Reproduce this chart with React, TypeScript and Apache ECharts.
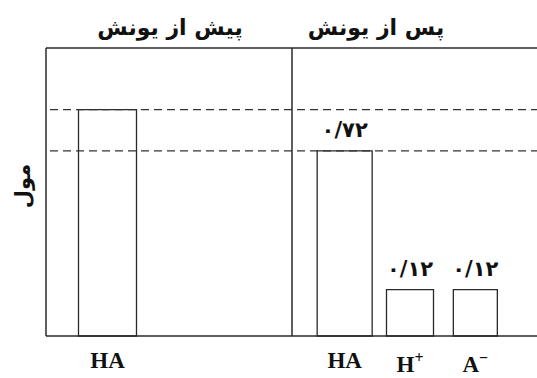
import React, { useEffect, useRef } from "react";
import * as echarts from "echarts";

// Panel titles and axis name
const panelTitles = ["پیش از یونش", "پس از یونش"];
const yAxisName = "مول";

// Categories
const beforeCategories = ["HA", ""];
const afterCategories = ["HA", "H+", "A−"];

// Bar heights as drawn (schematic)
const beforeValues = [0.88];
const afterValues = [0.72, 0.18, 0.18];

// Printed value labels
const beforeLabels = [""];
const afterLabels = ["۰/۷۲", "۰/۱۲", "۰/۱۲"];

// Dashed reference levels
const refLevels = [0.88, 0.72];

const beforeWidths = [58];
const afterWidths = [55, 47, 44];

const W = 537;
const H = 378;
const LEFT = 46;
const DIVIDER = 292;
const TOP = 48;
const BOTTOM = 336;
const LINE = "#2a2a2a";
const FA_FONT = "'DejaVu Sans', 'Noto Sans', sans-serif";

function makeRender(widths: number[], labels: string[]) {
  return (params: any, api: any) => {
    const cat = api.value(0);
    const val = api.value(1);
    const top = api.coord([cat, val]);
    const base = api.coord([cat, 0]);
    const w = widths[params.dataIndex];
    const children: any[] = [
      {
        type: "rect",
        shape: { x: top[0] - w / 2, y: top[1], width: w, height: base[1] - top[1] },
        style: { fill: "#fff", stroke: LINE, lineWidth: 1.3 },
      },
    ];
    const lab = labels[params.dataIndex];
    if (lab) {
      children.push({
        type: "text",
        style: {
          text: lab,
          x: top[0],
          y: top[1] - 10,
          align: "center",
          verticalAlign: "bottom",
          fontFamily: FA_FONT,
          fontWeight: "bold",
          fontSize: 21,
          fill: "#111",
        },
      });
    }
    return { type: "group", children };
  };
}

function xLabel(v: string) {
  if (v === "H+") return "{b|H}{sup|+}";
  if (v === "A−") return "{b|A}{sup|−}";
  return "{b|" + v + "}";
}

const labelRich = {
  b: { fontFamily: "'Liberation Serif', serif", fontWeight: "bold", fontSize: 23, color: "#111" },
  sup: {
    fontFamily: "'Liberation Serif', serif",
    fontWeight: "bold",
    fontSize: 16,
    color: "#111",
    padding: [0, 0, 14, 0],
  },
};

export default function App() {
  const ref = useRef<HTMLDivElement>(null);
  useEffect(() => {
    document.body.style.margin = "0";
    const chart = echarts.init(ref.current!, null, { renderer: "svg" });
    const yAxisCommon = { type: "value", min: 0, max: 1.12, show: false };
    const xAxisCommon = {
      type: "category",
      axisLine: { show: false },
      axisTick: { show: false },
      splitLine: { show: false },
      axisLabel: { margin: 13, interval: 0, formatter: xLabel, rich: labelRich },
    };
    chart.setOption({
      animation: false,
      backgroundColor: "#fff",
      grid: [
        { left: LEFT, width: DIVIDER - LEFT, top: TOP, bottom: H - BOTTOM },
        { left: 312, width: 196, top: TOP, bottom: H - BOTTOM },
      ],
      xAxis: [
        { ...xAxisCommon, gridIndex: 0, data: beforeCategories },
        { ...xAxisCommon, gridIndex: 1, data: afterCategories },
      ],
      yAxis: [
        { ...yAxisCommon, gridIndex: 0 },
        { ...yAxisCommon, gridIndex: 1 },
      ],
      series: [
        {
          type: "custom",
          xAxisIndex: 0,
          yAxisIndex: 0,
          data: beforeValues.map((v, i) => [i, v]),
          renderItem: makeRender(beforeWidths, beforeLabels),
        },
        {
          type: "custom",
          xAxisIndex: 1,
          yAxisIndex: 1,
          data: afterValues.map((v, i) => [i, v]),
          renderItem: makeRender(afterWidths, afterLabels),
        },
      ],
    });

    const dashY = refLevels.map((v) => chart.convertToPixel({ yAxisIndex: 0 }, v) as number);
    const lineStyle = { stroke: LINE, lineWidth: 1.5 };
    const titleStyle = {
      align: "center",
      verticalAlign: "middle",
      fontFamily: FA_FONT,
      fontWeight: "bold",
      fontSize: 22,
      fill: "#111",
    };
    chart.setOption({
      graphic: [
        ...dashY.map((y) => ({
          type: "line",
          z: 5,
          shape: { x1: 50, y1: y, x2: W, y2: y },
          style: { stroke: "#333", lineWidth: 1.3, lineDash: [8, 5] },
        })),
        { type: "line", z: 6, shape: { x1: LEFT, y1: TOP, x2: W, y2: TOP }, style: lineStyle },
        { type: "line", z: 6, shape: { x1: LEFT, y1: TOP, x2: LEFT, y2: BOTTOM }, style: lineStyle },
        { type: "line", z: 6, shape: { x1: DIVIDER, y1: TOP, x2: DIVIDER, y2: BOTTOM }, style: lineStyle },
        { type: "line", z: 6, shape: { x1: LEFT, y1: BOTTOM, x2: W, y2: BOTTOM }, style: lineStyle },
        { type: "text", x: 170, y: 27, style: { ...titleStyle, text: panelTitles[0] } },
        { type: "text", x: 376, y: 27, style: { ...titleStyle, text: panelTitles[1] } },
        {
          type: "text",
          x: 23,
          y: 186,
          rotation: Math.PI / 2,
          style: { ...titleStyle, fontSize: 21, text: yAxisName },
        },
      ],
    });
    return () => chart.dispose();
  }, []);
  return <div ref={ref} style={{ width: W, height: H }} />;
}
